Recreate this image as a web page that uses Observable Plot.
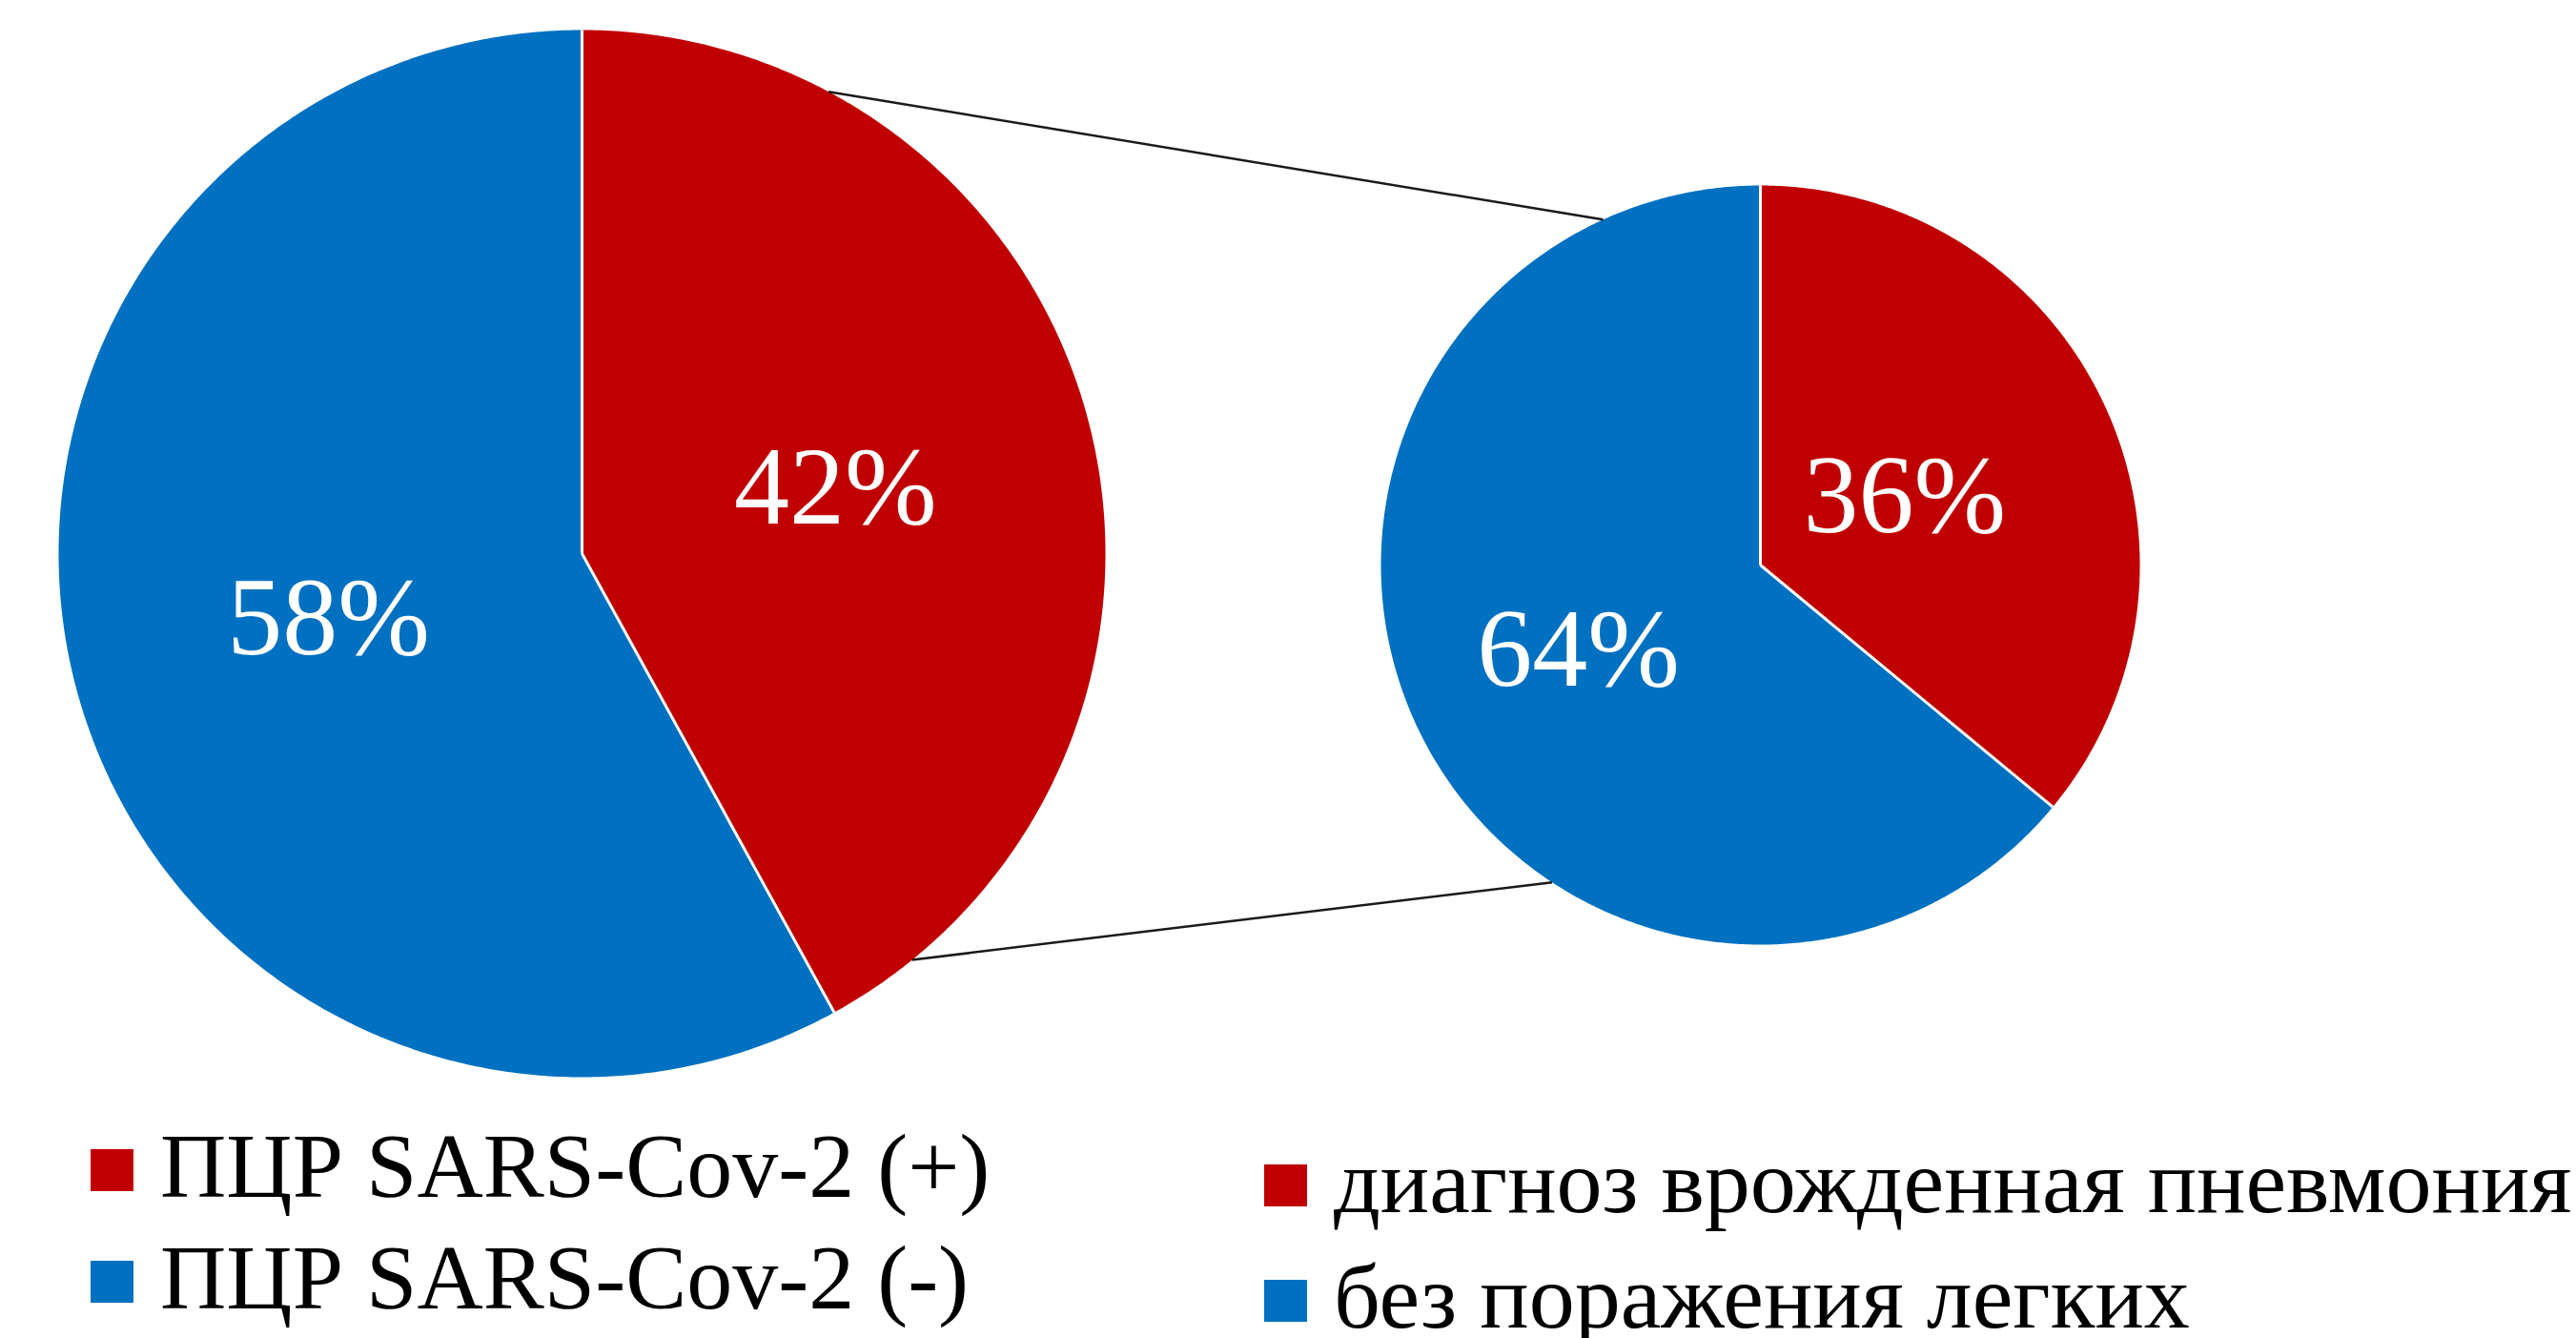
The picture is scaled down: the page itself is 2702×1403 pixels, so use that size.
<!DOCTYPE html>
<html>
<head>
<meta charset="utf-8">
<script src="https://cdn.jsdelivr.net/npm/d3@7"></script>
<script src="https://cdn.jsdelivr.net/npm/@observablehq/plot@0.6"></script>
<style>
  html, body { margin: 0; padding: 0; background: #fff; }
  #wrap { position: relative; width: 2702px; height: 1403px; overflow: hidden; background: #fff; }
  .sw { position: absolute; width: 45px; height: 44px; }
  .lt { position: absolute; font-family: "Liberation Serif", "Times New Roman", serif; font-size: 96px; line-height: 96px; color: #000; white-space: nowrap; }
</style>
</head>
<body>
<div id="wrap"></div>
<script>
// ---- data ----
const mainLabels = ["ПЦР SARS-Cov-2 (+)", "ПЦР SARS-Cov-2 (-)"];
const mainValues = [42, 58];
const subLabels = ["диагноз врожденная пневмония", "без поражения легких"];
const subValues = [36, 64];
const sliceColors = ["#C00000", "#0070C0"];

// ---- layout ----
const W = 2702, H = 1190;
const pies = [
  {id: "main", cx: 610, cy: 580, r: 549, values: mainValues, labelR: [0.5, 0.5]},
  {id: "sub", cx: 1846, cy: 592, r: 398, values: subValues, labelR: [0.42, 0.53]}
];
const deg = Math.PI / 180;
const connectorAngles = [[28.1 * deg, 335.5 * deg], [140.9 * deg, 213.3 * deg]];
const pt = (p, a, k = 1) => ({x: p.cx + k * p.r * Math.sin(a), y: p.cy - k * p.r * Math.cos(a)});

// ---- derived geometry ----
const polys = [], seps = [], texts = [];
for (const p of pies) {
  const arcs = d3.pie().sort(null).startAngle(0).endAngle(2 * Math.PI)(p.values);
  arcs.forEach((a, i) => {
    const key = p.id + i;
    polys.push({key, color: sliceColors[i], x: p.cx, y: p.cy});
    const n = Math.max(4, Math.ceil((a.endAngle - a.startAngle) / (0.5 * deg)));
    for (let j = 0; j <= n; j++) {
      const t = a.startAngle + (a.endAngle - a.startAngle) * j / n;
      polys.push({key, color: sliceColors[i], ...pt(p, t)});
    }
    polys.push({key, color: sliceColors[i], x: p.cx, y: p.cy});
    const e = pt(p, a.startAngle);
    seps.push({x1: p.cx, y1: p.cy, x2: e.x, y2: e.y});
    const m = pt(p, (a.startAngle + a.endAngle) / 2, p.labelR[i]);
    texts.push({...m, text: a.data + "%"});
  });
}
const links = connectorAngles.map(([a1, a2]) => {
  const s = pt(pies[0], a1), e = pt(pies[1], a2);
  return {x1: s.x, y1: s.y, x2: e.x, y2: e.y};
});

const chart = Plot.plot({
  width: W, height: H,
  margin: 0,
  x: {type: "linear", domain: [0, W], range: [0, W], axis: null},
  y: {type: "linear", domain: [0, H], range: [0, H], axis: null},
  style: {background: "#fff"},
  marks: [
    Plot.line(polys, {x: "x", y: "y", z: "key", fill: "color", stroke: "none", curve: "linear"}),
    Plot.link(seps, {x1: "x1", y1: "y1", x2: "x2", y2: "y2", stroke: "#fff", strokeWidth: 3}),
    Plot.link(links, {x1: "x1", y1: "y1", x2: "x2", y2: "y2", stroke: "#1a1a1a", strokeWidth: 2.5}),
    Plot.text(texts, {x: "x", y: "y", text: "text", fill: "#fff", fontSize: 116,
      fontFamily: "Liberation Serif, Times New Roman, serif", textAnchor: "middle", lineAnchor: "middle"})
  ]
});
const wrap = document.getElementById("wrap");
chart.style.position = "absolute";
chart.style.left = "0px";
chart.style.top = "0px";
wrap.appendChild(chart);

// ---- legend (HTML, below the SVG) ----
const legendLayout = [
  {labels: mainLabels, x: 95, baselines: [1255, 1372]},
  {labels: subLabels, x: 1326, baselines: [1271, 1392]}
];
for (const L of legendLayout) {
  L.labels.forEach((lab, i) => {
    const sw = document.createElement("div");
    sw.className = "sw";
    sw.style.left = L.x + "px";
    sw.style.top = (L.baselines[i] - 50) + "px";
    sw.style.background = sliceColors[i];
    wrap.appendChild(sw);
    const t = document.createElement("div");
    t.className = "lt";
    t.style.left = (L.x + 73) + "px";
    t.style.top = (L.baselines[i] - 80) + "px";
    t.textContent = lab;
    wrap.appendChild(t);
  });
}
</script>
</body>
</html>
